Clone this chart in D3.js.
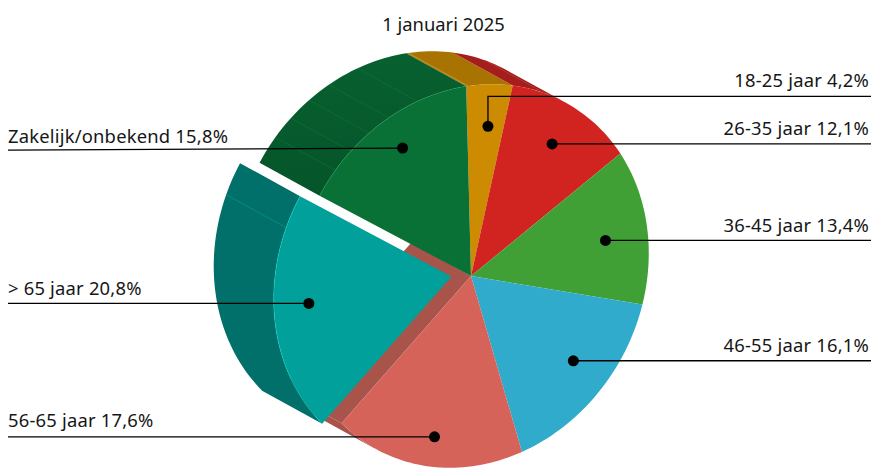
<!DOCTYPE html>
<html>
<head>
<meta charset="utf-8">
<script src="https://cdn.jsdelivr.net/npm/d3@7"></script>
<style>
  html, body { margin: 0; padding: 0; background: #fff; }
  svg { display: block; }
  text { font-family: "Noto Sans", sans-serif; font-size: 18.4px; fill: #161616; }
  text.label { letter-spacing: 0.2px; }
</style>
</head>
<body>
<div id="graph"></div>
<script>
// leeftijdsverdeling per 1 januari 2025
let title = "1 januari 2025";
let categories = ["18-25 jaar", "26-35 jaar", "36-45 jaar", "46-55 jaar", "56-65 jaar", "> 65 jaar", "Zakelijk/onbekend"];
let values = [4.2, 12.1, 13.4, 16.1, 17.6, 20.8, 15.8];
let valueLabels = ["4,2%", "12,1%", "13,4%", "16,1%", "17,6%", "20,8%", "15,8%"];
let topColors = ["#cc8b00", "#d1231f", "#40a035", "#31abcb", "#d6635a", "#02a09a", "#097136"];
let wallColors = ["#a87300", "#a51e1b", "#318028", "#26889f", "#a9544b", "#016f6a", "#075c2f"];

let w = 871, h = 468;
let cx = 471, cy = 276;
let a = 197.7, b = 171.6;        // halve assen van de ellips
let major = [0.48, -0.876], minor = [0.876, 0.48];
let extrude = [-60, -33];
let startDeg = -33.8;
let exploded = 5;                // index van de losse punt
let explodeDx = -19.5, explodeDy = 0.5;
let labelRadius = 0.77;
let dotNudge = [[2.6, -2], [1.9, -2.3], [-0.8, 4], [4.5, -5.2], [-1, 14.7], [-6.5, -5.5], [0, -9.7]];
let labelLift = [9.7, 8.5, 8.3, 9, 9.7, 8.3, 7];
let rad = Math.PI / 180;

let svg = d3.select("#graph").append("svg").attr("width", w).attr("height", h);

let grad = svg.append("defs").append("linearGradient")
  .attr("id", "wallGreen").attr("x1", 0).attr("y1", 0).attr("x2", 0).attr("y2", 1);
grad.append("stop").attr("offset", 0).attr("stop-color", "#08602f");
grad.append("stop").attr("offset", 1).attr("stop-color", "#05552a");

let slices = d3.pie().sort(null).startAngle(startDeg * rad).endAngle((startDeg + 360) * rad)(values);

// schijfcoordinaat naar scherm
function project(ang, r, dx, dy) {
  let u = a * Math.cos(ang) * r, v = b * Math.sin(ang) * r;
  return [cx + u * major[0] + v * minor[0] + dx, cy + u * major[1] + v * minor[1] + dy];
}
function arcPoints(a0, a1, dx, dy) {
  let n = Math.max(2, Math.ceil(Math.abs(a1 - a0) / (rad * 1.5)));
  return d3.range(n + 1).map(i => project(a0 + (a1 - a0) * i / n, 1, dx, dy));
}
let line = d3.line();
let closed = pts => line(pts) + "Z";

function offsetOf(i) {
  return i === exploded ? [explodeDx, explodeDy] : [0, 0];
}
// alleen het deel van de rand dat naar de kijker staat: onder 0 of boven 180 graden
function visibleRange(s) {
  if (s.endAngle <= 0) return [s.startAngle, s.endAngle];
  if (s.startAngle < 0) return [s.startAngle, 0];
  if (s.endAngle > Math.PI) return [Math.max(s.startAngle, Math.PI), s.endAngle];
  return null;
}
function wall(s) {
  let o = offsetOf(s.index);
  let r = visibleRange(s);
  let front = arcPoints(r[0], r[1], o[0], o[1]);
  let back = arcPoints(r[1], r[0], o[0] + extrude[0], o[1] + extrude[1]);
  return closed(front.concat(back));
}

// buitenwanden, losse punt als laatste
let ordered = slices.filter(s => s.index !== exploded && visibleRange(s));
svg.append("g").selectAll("path").data(ordered).enter().append("path")
  .attr("d", wall)
  .attr("fill", d => d.index === 6 ? "url(#wallGreen)" : wallColors[d.index]);

// binnenwand van de schijf naast de losse punt
let p = slices[exploded - 1];
let rimEnd = project(p.endAngle, 1, 0, 0);
svg.append("path")
  .attr("d", closed([[cx, cy], rimEnd, [rimEnd[0] + extrude[0], rimEnd[1] + extrude[1]], [cx + extrude[0], cy + extrude[1]]]))
  .attr("fill", wallColors[exploded - 1]);

svg.append("path").attr("d", wall(slices[exploded])).attr("fill", wallColors[exploded]);

// lichte naden op de wanden
let seams = [[6, 310.2], [6, 300.2], [6, 292.7], [6, 285.2], [6, 278], [5, 259.3], [0, -33.2], [1, -7.6]];
svg.append("g").selectAll("line").data(seams).enter().append("line")
  .each(function(d) {
    let o = offsetOf(d[0]);
    let q = project(d[1] * rad, 1, o[0], o[1]);
    d3.select(this)
      .attr("x1", q[0]).attr("y1", q[1])
      .attr("x2", q[0] + extrude[0]).attr("y2", q[1] + extrude[1]);
  })
  .attr("stroke", d => d[0] === 0 ? "#e0b040" : d[0] === 1 ? "#c04a45" : d3.color(topColors[d[0]]).brighter(0.7))
  .attr("stroke-opacity", d => d[0] > 1 ? 0.45 : 0.8)
  .attr("stroke-width", 0.7);

// bovenvlakken
svg.append("g").selectAll("path").data(slices).enter().append("path")
  .attr("d", s => {
    let o = offsetOf(s.index);
    let tip = [cx + o[0], cy + o[1]];
    return closed([tip].concat(arcPoints(s.startAngle, s.endAngle, o[0], o[1])));
  })
  .attr("fill", d => topColors[d.index]);

// lichte rand waar de bovenkant de wand raakt
svg.append("g").selectAll("path").data([slices[5], slices[6]]).enter().append("path")
  .attr("d", s => {
    let o = offsetOf(s.index);
    return line(arcPoints(s.startAngle, s.endAngle, o[0], o[1]));
  })
  .attr("fill", "none")
  .attr("stroke", d => d3.color(topColors[d.index]).brighter(1))
  .attr("stroke-opacity", 0.7)
  .attr("stroke-width", 0.6);

// labels met aanwijslijnen
function dotOf(s) {
  let o = offsetOf(s.index);
  let q = project((s.startAngle + s.endAngle) / 2, labelRadius, o[0], o[1]);
  return [q[0] + dotNudge[s.index][0], q[1] + dotNudge[s.index][1]];
}
let rightSide = [0, 1, 2, 3];
slices.forEach(s => {
  let d = dotOf(s);
  let right = rightSide.includes(s.index);
  let lineY = s.index === 0 ? d[1] - 30 : d[1];
  let edge = right ? w : 8;
  // de lijn naar Zakelijk loopt iets af
  let endY = s.index === 6 ? lineY + 2 : lineY;
  let pts = s.index === 0 ? [d, [d[0], lineY], [edge, endY]] : [d, [edge, endY]];
  svg.append("path").attr("d", line(pts)).attr("fill", "none").attr("stroke", "#000").attr("stroke-width", 1.3);
  svg.append("circle").attr("cx", d[0]).attr("cy", d[1]).attr("r", 5.5).attr("fill", "#000");
  svg.append("text")
    .attr("class", "label")
    .attr("x", right ? 869 : 8)
    .attr("y", endY - labelLift[s.index])
    .attr("text-anchor", right ? "end" : "start")
    .text(categories[s.index] + " " + valueLabels[s.index]);
});

svg.append("text").attr("x", 443.5).attr("y", 30.5).attr("text-anchor", "middle").text(title);
</script>
</body>
</html>
